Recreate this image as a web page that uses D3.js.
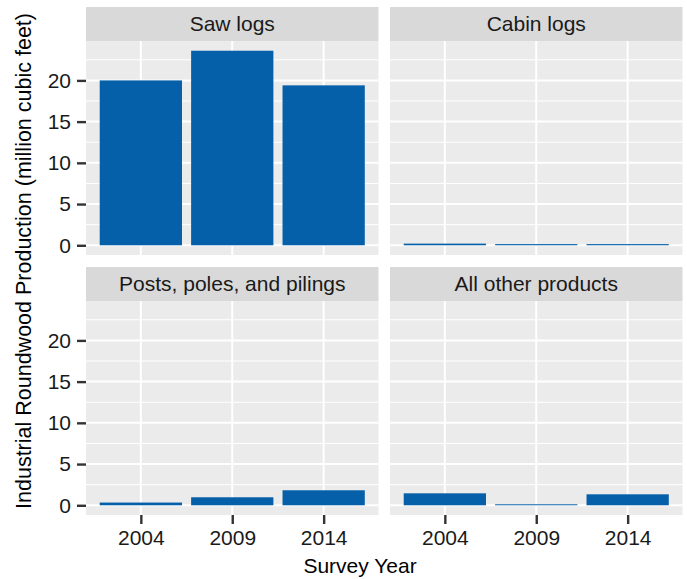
<!DOCTYPE html>
<html>
<head>
<meta charset="utf-8">
<script src="https://cdn.jsdelivr.net/npm/d3@7"></script>
<style>
  html, body { margin: 0; padding: 0; background: #ffffff; }
  svg { display: block; }
  text { font-family: "Liberation Sans", Arial, Helvetica, sans-serif; }
</style>
</head>
<body>
<svg id="chart" width="687" height="579"></svg>
<script>
// Industrial roundwood production by product and survey year (million cubic feet)
const products = ["Saw logs", "Cabin logs", "Posts, poles, and pilings", "All other products"];
const years = ["2004", "2009", "2014"];
const sawLogs = [20.0, 23.6, 19.4];
const cabinLogs = [0.2, 0.14, 0.14];
const postsPoles = [0.33, 0.97, 1.82];
const allOther = [1.45, 0.12, 1.33];
const yTicks = [0, 5, 10, 15, 20];
const yMinorTicks = [2.5, 7.5, 12.5, 17.5, 22.5];
const xTitle = "Survey Year";
const yTitle = "Industrial Roundwood Production (million cubic feet)";

const seriesByProduct = [sawLogs, cabinLogs, postsPoles, allOther];

const svg = d3.select("#chart");
const barColor = "#0560a9";
const fontSize = 21;

// facet grid geometry
const colX = [[86, 378.5], [390, 682.5]];
const rowY = [{ strip: 7, top: 41, bottom: 255 }, { strip: 267, top: 301, bottom: 515 }];

// shared y scale with 5% expansion on each side
const yMax = d3.max(seriesByProduct.flat());
const yMin = 0;
const pad = (yMax - yMin) * 0.05;

products.forEach((name, i) => {
  const col = i % 2, row = Math.floor(i / 2);
  const [x0, x1] = colX[col];
  const r = rowY[row];

  const y = d3.scaleLinear().domain([yMin - pad, yMax + pad]).range([r.bottom, r.top]);
  const x = d3.scalePoint().domain(years).range([x0, x1]).padding(0.6);
  const barW = x.step() * 0.9;

  const g = svg.append("g");

  // strip
  g.append("rect").attr("x", x0).attr("y", r.strip).attr("width", x1 - x0).attr("height", r.top - r.strip)
    .attr("fill", "#d9d9d9");
  g.append("text").attr("x", (x0 + x1) / 2).attr("y", r.strip + 24)
    .attr("text-anchor", "middle").attr("font-size", fontSize).attr("fill", "#1a1a1a").text(name);

  // panel background
  g.append("rect").attr("x", x0).attr("y", r.top).attr("width", x1 - x0).attr("height", r.bottom - r.top)
    .attr("fill", "#ebebeb");

  // minor grid
  g.selectAll(".minor").data(yMinorTicks.filter(v => y(v) >= r.top && y(v) <= r.bottom)).join("line")
    .attr("x1", x0).attr("x2", x1).attr("y1", d => y(d)).attr("y2", d => y(d))
    .attr("stroke", "#ffffff").attr("stroke-width", 1);

  // major grid
  g.selectAll(".majorY").data(yTicks).join("line")
    .attr("x1", x0).attr("x2", x1).attr("y1", d => y(d)).attr("y2", d => y(d))
    .attr("stroke", "#ffffff").attr("stroke-width", 2);
  g.selectAll(".majorX").data(years).join("line")
    .attr("x1", d => x(d)).attr("x2", d => x(d)).attr("y1", r.top).attr("y2", r.bottom)
    .attr("stroke", "#ffffff").attr("stroke-width", 2);

  // bars
  g.selectAll(".bar").data(years.map((yr, k) => ({ yr, v: seriesByProduct[i][k] }))).join("rect")
    .attr("x", d => x(d.yr) - barW / 2).attr("width", barW)
    .attr("y", d => y(d.v)).attr("height", d => y(0) - y(d.v))
    .attr("fill", barColor);

  // y axis on left column
  if (col === 0) {
    const ay = g.append("g").attr("transform", `translate(${x0},0)`)
      .call(d3.axisLeft(y).tickValues(yTicks).tickSize(9).tickPadding(6));
    ay.select(".domain").remove();
    ay.selectAll(".tick line").attr("stroke", "#333333").attr("stroke-width", 2.4);
    ay.selectAll(".tick text").attr("font-size", fontSize).attr("fill", "#1a1a1a")
      .attr("font-family", '"Liberation Sans", Arial, Helvetica, sans-serif');
  }
  // x axis on bottom row
  if (row === 1) {
    const ax = g.append("g").attr("transform", `translate(0,${r.bottom})`)
      .call(d3.axisBottom(x).tickSize(9).tickPadding(6));
    ax.select(".domain").remove();
    ax.selectAll(".tick line").attr("stroke", "#333333").attr("stroke-width", 2.4);
    ax.selectAll(".tick text").attr("font-size", fontSize).attr("fill", "#1a1a1a")
      .attr("font-family", '"Liberation Sans", Arial, Helvetica, sans-serif');
  }
});

// axis titles
svg.append("text").attr("x", 360).attr("y", 573)
  .attr("text-anchor", "middle").attr("font-size", fontSize).attr("fill", "#000000").text(xTitle);
svg.append("text").attr("transform", `translate(31,261) rotate(-90)`)
  .attr("text-anchor", "middle").attr("font-size", 21.5).attr("fill", "#000000").text(yTitle);
</script>
</body>
</html>
